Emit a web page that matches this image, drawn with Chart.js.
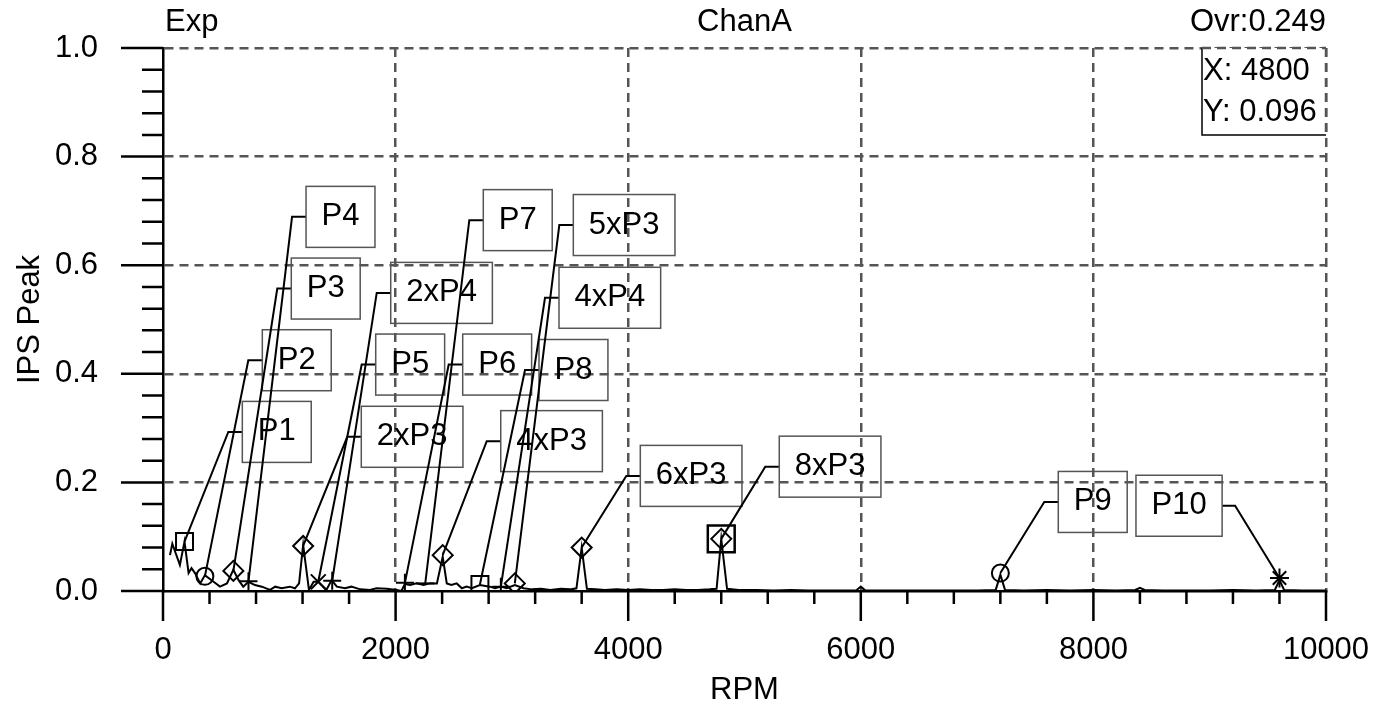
<!DOCTYPE html>
<html>
<head>
<meta charset="utf-8">
<script src="https://cdn.jsdelivr.net/npm/chart.js@4.4.1/dist/chart.umd.min.js"></script>
<style>
  body { margin: 0; background: #fff; }
  #wrap { width: 1387px; height: 706px; position: relative; }
</style>
</head>
<body>
<div id="wrap"><canvas id="spectrum"></canvas></div>
<script>
// Spectrum trace (RPM vs IPS Peak)
const traceRpm = [60, 80, 110, 145, 185, 220, 245, 275, 320, 360, 435, 490, 550, 605, 650, 690, 735, 790, 850, 920,
  965, 1020, 1090, 1135, 1170, 1205, 1255, 1295, 1335, 1405, 1450, 1495, 1565, 1620, 1695, 1780, 1835, 1925, 2010, 2050,
  2080, 2125, 2180, 2240, 2295, 2355, 2405, 2440, 2480, 2525, 2570, 2610, 2655, 2725, 2810, 2855, 2905, 2955, 3025, 3100,
  3170, 3250, 3330, 3420, 3500, 3555, 3600, 3645, 3720, 3800, 3900, 4000, 4100, 4200, 4300, 4400, 4500, 4600, 4700, 4760,
  4800, 4850, 4950, 5100, 5250, 5400, 5550, 5700, 5850, 5960, 6000, 6040, 6200, 6400, 6600, 6800, 7000, 7160, 7200, 7240,
  7400, 7600, 7800, 8000, 8200, 8360, 8400, 8440, 8600, 8800, 9000, 9200, 9400, 9560, 9600, 9640, 9800, 10000];
const traceIps = [0.066, 0.087, 0.069, 0.048, 0.091, 0.033, 0.042, 0.033, 0.014, 0.029, 0.017, 0.008, 0.014, 0.039, 0.020, 0.008, 0.017, 0.011, 0.008, 0.002,
  0.008, 0.005, 0.008, 0.005, 0.014, 0.085, 0.002, 0.017, 0.017, 0.002, 0.020, 0.008, 0.005, 0.008, 0.003, 0.002, 0.005, 0.004, 0.002, 0.000,
  0.013, 0.011, 0.014, 0.011, 0.014, 0.014, 0.063, 0.014, 0.011, 0.014, 0.005, 0.008, 0.005, 0.011, 0.008, 0.005, 0.008, 0.005, 0.011, 0.005,
  0.003, 0.004, 0.002, 0.004, 0.003, 0.005, 0.080, 0.004, 0.003, 0.002, 0.003, 0.002, 0.003, 0.002, 0.002, 0.003, 0.002, 0.002, 0.003, 0.004,
  0.096, 0.004, 0.002, 0.002, 0.001, 0.002, 0.001, 0.001, 0.001, 0.001, 0.008, 0.001, 0.001, 0.001, 0.001, 0.001, 0.001, 0.002, 0.030, 0.002,
  0.001, 0.002, 0.001, 0.002, 0.001, 0.002, 0.006, 0.002, 0.001, 0.001, 0.001, 0.002, 0.001, 0.002, 0.020, 0.002, 0.001, 0.001];

// Peak markers and their labels
const peakNames = ['P1', 'P2', 'P3', 'P4', '2xP3', 'P5', '2xP4', 'P6', 'P7', '4xP3', 'P8', '4xP4', '5xP3', '6xP3', '8xP3', 'P9', 'P10'];
const peakRpm = [185, 360, 605, 735, 1205, 1335, 1455, 2080, 2255, 2405, 2725, 2905, 3025, 3600, 4800, 7200, 9600];
const peakIps = [0.091, 0.027, 0.037, 0.018, 0.083, 0.017, 0.019, 0.015, 0.014, 0.066, 0.012, 0.008, 0.014, 0.080, 0.096, 0.033, 0.024];
// label box anchor: left edge of box (RPM) and height of leader elbow (IPS)
const labelRpm = [682, 854, 1103, 1230, 1705, 1829, 1958, 2577, 2754, 2904, 3233, 3405, 3528, 4104, 5299, 7698, 8366];
const labelIps = [0.293, 0.425, 0.557, 0.689, 0.284, 0.417, 0.549, 0.417, 0.683, 0.276, 0.407, 0.540, 0.674, 0.212, 0.229, 0.164, 0.157];

// cursor readout
const cursorRpm = 4800;
const cursorIps = 0.096;

const xTicks = [0, 2000, 4000, 6000, 8000, 10000];
const yTicks = [0.0, 0.2, 0.4, 0.6, 0.8, 1.0];
const headerLeft = 'Exp';
const headerMid = 'ChanA';
const headerRight = 'Ovr:0.249';

const FONT = '"Liberation Sans", Arial, sans-serif';
const FS = 31;

const shapeOf = {
  P1: 'rect', P2: 'circle', P3: 'rectRot', P4: 'cross', P5: 'crossRot', P6: 'cross', P7: 'line',
  P8: 'rect', P9: 'circle', P10: 'star'
};
function markerStyle(name) {
  const base = name.includes('x') ? name.split('x')[1] : name;
  return shapeOf[base];
}
const sizeOf = { rect: 12, circle: 8.5, rectRot: 10, cross: 9, crossRot: 10.5, line: 9, star: 9.5 };

const overlay = {
  id: 'overlay',
  afterDraw(chart) {
    const { ctx, chartArea: a, scales: { x, y } } = chart;
    ctx.save();

    // tick marks, major and minor
    ctx.strokeStyle = '#000';
    ctx.lineWidth = 2.5;
    ctx.beginPath();
    for (let v = 0; v <= 10000; v += 400) {
      const px = x.getPixelForValue(v);
      const len = v % 2000 === 0 ? 30 : 13;
      ctx.moveTo(px, a.bottom);
      ctx.lineTo(px, a.bottom + len);
    }
    for (let i = 0; i <= 25; i++) {
      const py = y.getPixelForValue(i * 0.04);
      const len = i % 5 === 0 ? 42 : 21;
      ctx.moveTo(a.left, py);
      ctx.lineTo(a.left - len, py);
    }
    ctx.stroke();

    // header texts
    ctx.fillStyle = '#000';
    ctx.font = FS + 'px ' + FONT;
    ctx.textBaseline = 'alphabetic';
    ctx.textAlign = 'left';
    ctx.fillText(headerLeft, a.left + 2, 31);
    ctx.textAlign = 'center';
    ctx.fillText(headerMid, (a.left + a.right) / 2, 31);
    ctx.textAlign = 'right';
    ctx.fillText(headerRight, a.right, 31);

    // labels with leader lines
    peakNames.forEach((name, i) => {
      const mx = x.getPixelForValue(peakRpm[i]);
      const my = y.getPixelForValue(peakIps[i]);
      const bx = x.getPixelForValue(labelRpm[i]);
      const ly = y.getPixelForValue(labelIps[i]);
      const tw = ctx.measureText(name).width;
      const bw = tw + 31;
      const bh = 61;
      const rightSide = bx + bw / 2 < mx;
      const ex = rightSide ? bx + bw + 13 : bx - 14;

      ctx.strokeStyle = '#000';
      ctx.lineWidth = 2;
      ctx.beginPath();
      ctx.moveTo(rightSide ? bx + bw : bx, ly);
      ctx.lineTo(ex, ly);
      ctx.lineTo(mx, my);
      ctx.stroke();

      ctx.strokeStyle = '#555';
      ctx.lineWidth = 1.5;
      ctx.strokeRect(bx, ly - bh / 2, bw, bh);
      ctx.fillStyle = '#000';
      ctx.textAlign = 'center';
      ctx.textBaseline = 'middle';
      ctx.fillText(name, bx + bw / 2, ly);
    });

    // cursor readout box
    const l1 = 'X: ' + cursorRpm;
    const l2 = 'Y: ' + cursorIps.toFixed(3);
    ctx.fillStyle = '#fff';
    ctx.fillRect(a.right - 124, a.top, 124, 87);
    ctx.strokeStyle = '#000';
    ctx.lineWidth = 1.5;
    ctx.beginPath();
    ctx.moveTo(a.right - 124, a.top);
    ctx.lineTo(a.right - 124, a.top + 87);
    ctx.lineTo(a.right, a.top + 87);
    ctx.stroke();
    ctx.strokeStyle = '#555';
    ctx.lineWidth = 2.5;
    ctx.setLineDash([9, 6]);
    ctx.beginPath();
    ctx.moveTo(a.right, a.top);
    ctx.lineTo(a.right, a.top + 87);
    ctx.moveTo(a.right - 124, a.top);
    ctx.lineTo(a.right, a.top);
    ctx.stroke();
    ctx.setLineDash([]);
    ctx.fillStyle = '#000';
    ctx.textAlign = 'left';
    ctx.textBaseline = 'alphabetic';
    ctx.fillText(l1, a.right - 123, a.top + 32);
    ctx.fillText(l2, a.right - 123, a.top + 73);

    ctx.restore();
  }
};

const ctx = document.getElementById('spectrum').getContext('2d');
new Chart(ctx, {
  type: 'scatter',
  data: {
    datasets: [
      {
        label: 'trace',
        data: traceRpm.map((r, i) => ({ x: r, y: traceIps[i] })),
        showLine: true,
        borderColor: '#000',
        borderWidth: 2,
        pointRadius: 0,
        tension: 0
      },
      {
        label: 'peaks',
        data: peakRpm.map((r, i) => ({ x: r, y: peakIps[i] })),
        showLine: false,
        pointStyle: peakNames.map(markerStyle),
        pointRadius: peakNames.map(n => sizeOf[markerStyle(n)]),
        borderColor: '#000',
        borderWidth: 2,
        backgroundColor: 'rgba(0,0,0,0)'
      },
      {
        label: 'cursor',
        data: [{ x: cursorRpm, y: cursorIps }],
        showLine: false,
        pointStyle: 'rect',
        pointRadius: 19,
        borderColor: '#000',
        borderWidth: 2.5,
        backgroundColor: 'rgba(0,0,0,0)'
      }
    ]
  },
  options: {
    responsive: true,
    maintainAspectRatio: false,
    animation: false,
    devicePixelRatio: 1,
    layout: { padding: { left: 0, right: 61, top: 48, bottom: 0 } },
    plugins: {
      legend: { display: false },
      tooltip: { enabled: false }
    },
    scales: {
      x: {
        type: 'linear',
        min: 0,
        max: 10000,
        afterFit: s => { s.height = 115; },
        afterBuildTicks: s => { s.ticks = xTicks.map(v => ({ value: v })); },
        ticks: {
          color: '#000',
          padding: 3,
          maxRotation: 0,
          callback: v => String(v),
          font: { family: FONT, size: FS }
        },
        grid: {
          drawTicks: true,
          tickLength: 38,
          tickColor: 'rgba(0,0,0,0)',
          color: c => (c.tick && c.tick.value === 0 ? 'rgba(0,0,0,0)' : '#555'),
          lineWidth: 2.5
        },
        border: { display: true, color: '#000', width: 2.5, dash: [9, 6] },
        title: {
          display: true,
          text: 'RPM',
          color: '#000',
          padding: { top: 0, bottom: -3 },
          font: { family: FONT, size: FS }
        }
      },
      y: {
        type: 'linear',
        min: 0,
        max: 1,
        afterFit: s => { s.width = 163; },
        afterBuildTicks: s => { s.ticks = yTicks.map(v => ({ value: v })); },
        ticks: {
          color: '#000',
          padding: 3,
          callback: v => v.toFixed(1),
          font: { family: FONT, size: FS }
        },
        grid: {
          drawTicks: true,
          tickLength: 62,
          tickColor: 'rgba(0,0,0,0)',
          color: c => (c.tick && c.tick.value === 0 ? 'rgba(0,0,0,0)' : '#555'),
          lineWidth: 2.5
        },
        border: { display: true, color: '#000', width: 2.5, dash: [9, 6] },
        title: {
          display: true,
          text: 'IPS Peak',
          color: '#000',
          padding: { top: 12, bottom: 0 },
          font: { family: FONT, size: FS }
        }
      }
    }
  },
  plugins: [overlay]
});
</script>
</body>
</html>
